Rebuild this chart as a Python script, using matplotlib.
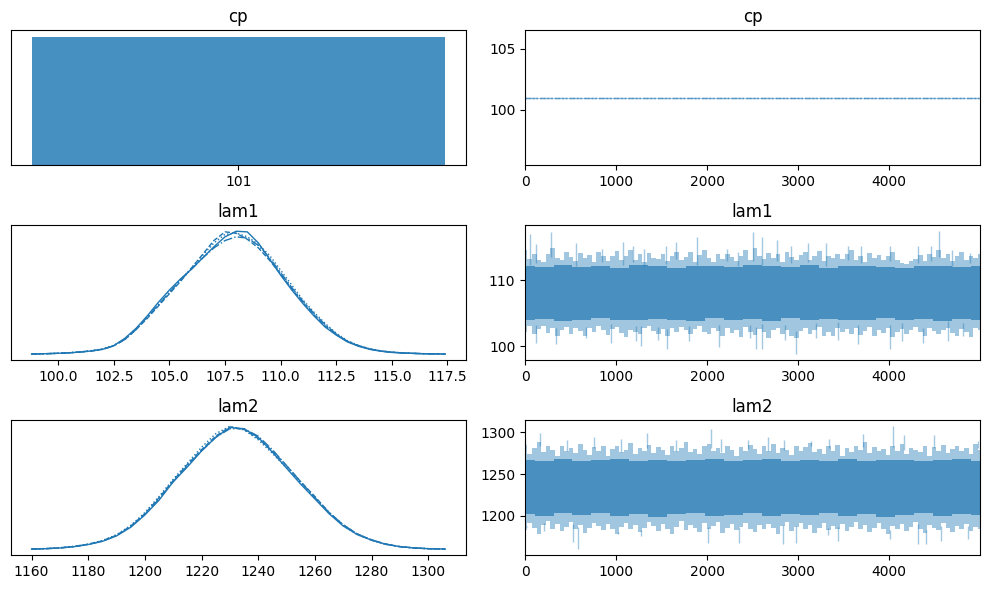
import numpy as np
import matplotlib
matplotlib.use("Agg")
import matplotlib.pyplot as plt

# trace plot of a change point model, 4 chains of 5000 draws

n_draws = 5000
chain_styles = ["-", "--", ":", "-."]
blue = "C0"

# cp is a constant 101 in every chain
cp_value = 101

# kde of lam1, one curve per chain (height relative to the peak)
lam1_grid = [98.8, 99.5, 100, 100.5, 101, 101.5, 102, 102.5, 103, 103.5, 104, 104.5, 105, 105.5,
             106, 106.5, 107, 107.5, 108, 108.5, 109, 109.5, 110, 110.5, 111, 111.5, 112, 112.5,
             113, 113.5, 114, 114.5, 115, 115.5, 116, 116.5, 117, 117.4]
lam1_kde = [
    [0.002, 0.005, 0.008, 0.012, 0.018, 0.027, 0.04, 0.07, 0.13, 0.21, 0.31, 0.42, 0.52, 0.61,
     0.69, 0.78, 0.87, 0.95, 0.995, 0.99, 0.90, 0.77, 0.64, 0.52, 0.41, 0.31, 0.22, 0.155,
     0.10, 0.065, 0.04, 0.025, 0.015, 0.01, 0.007, 0.004, 0.003, 0.002],
    [0.002, 0.005, 0.008, 0.012, 0.019, 0.028, 0.042, 0.07, 0.12, 0.20, 0.29, 0.39, 0.49, 0.59,
     0.70, 0.81, 0.92, 0.99, 0.98, 0.93, 0.86, 0.76, 0.65, 0.53, 0.42, 0.32, 0.23, 0.16,
     0.105, 0.07, 0.043, 0.027, 0.017, 0.011, 0.007, 0.004, 0.003, 0.002],
    [0.002, 0.005, 0.008, 0.013, 0.02, 0.03, 0.043, 0.072, 0.125, 0.205, 0.30, 0.40, 0.50, 0.60,
     0.70, 0.80, 0.90, 0.97, 0.98, 0.95, 0.89, 0.80, 0.68, 0.56, 0.44, 0.34, 0.25, 0.17,
     0.11, 0.072, 0.045, 0.028, 0.018, 0.012, 0.008, 0.005, 0.003, 0.002],
    [0.002, 0.005, 0.008, 0.012, 0.018, 0.027, 0.04, 0.068, 0.12, 0.20, 0.30, 0.40, 0.50, 0.60,
     0.69, 0.78, 0.86, 0.92, 0.95, 0.94, 0.88, 0.78, 0.66, 0.54, 0.43, 0.33, 0.24, 0.165,
     0.105, 0.068, 0.042, 0.026, 0.016, 0.011, 0.007, 0.004, 0.003, 0.002],
]

# kde of lam2
lam2_grid = [1160, 1165, 1170, 1175, 1180, 1185, 1190, 1195, 1200, 1205, 1210, 1215, 1220, 1225,
             1230, 1235, 1240, 1245, 1250, 1255, 1260, 1265, 1270, 1275, 1280, 1285, 1290, 1295,
             1300, 1306]
lam2_kde = [
    [0.003, 0.006, 0.012, 0.022, 0.04, 0.065, 0.11, 0.18, 0.28, 0.40, 0.55, 0.67, 0.80, 0.91,
     0.99, 0.98, 0.91, 0.79, 0.66, 0.53, 0.41, 0.29, 0.19, 0.12, 0.075, 0.042, 0.022, 0.012,
     0.006, 0.003],
    [0.003, 0.006, 0.013, 0.024, 0.042, 0.07, 0.115, 0.19, 0.29, 0.42, 0.56, 0.69, 0.81, 0.92,
     0.995, 0.975, 0.90, 0.80, 0.68, 0.55, 0.43, 0.30, 0.20, 0.125, 0.078, 0.044, 0.023, 0.012,
     0.006, 0.003],
    [0.003, 0.007, 0.014, 0.025, 0.043, 0.072, 0.12, 0.195, 0.30, 0.43, 0.57, 0.70, 0.83, 0.94,
     1.0, 0.97, 0.89, 0.78, 0.66, 0.54, 0.42, 0.30, 0.195, 0.12, 0.074, 0.041, 0.022, 0.011,
     0.006, 0.003],
    [0.003, 0.006, 0.012, 0.023, 0.041, 0.068, 0.112, 0.185, 0.285, 0.41, 0.55, 0.68, 0.80, 0.91,
     0.98, 0.98, 0.92, 0.81, 0.68, 0.55, 0.42, 0.30, 0.20, 0.125, 0.077, 0.043, 0.023, 0.012,
     0.006, 0.003],
]

# trace bands: outer edge every 50 draws, dense core every 200 draws
lam1_outer_hi = [114.5, 113.2, 114.0, 113.0, 112.8, 113.9, 114.8, 113.4, 113.1, 114.2,
                 113.5, 112.9, 114.1, 113.3, 113.8, 112.7, 114.3, 113.6, 112.9, 113.7,
                 114.4, 113.1, 113.7, 114.6, 113.0, 113.9, 112.8, 114.1, 113.4, 113.2,
                 114.0, 112.9, 113.6, 114.3, 113.0, 113.5, 114.2, 112.8, 113.8, 114.5,
                 113.3, 112.7, 113.9, 113.2, 114.0, 113.5, 112.9, 113.7, 114.6, 113.1,
                 114.8, 113.6, 113.2, 114.1, 113.4, 113.9, 112.8, 114.3, 113.5, 113.0,
                 113.8, 114.2, 113.1, 113.6, 114.4, 112.9, 113.7, 113.3, 114.0, 113.2,
                 113.9, 114.5, 113.0, 113.6, 112.8, 114.1, 113.4, 113.8, 113.1, 113.6,
                 114.3, 113.0, 112.6, 112.4, 112.9, 113.2, 113.8, 112.9, 114.0, 113.5,
                 114.6, 113.3, 113.9, 112.9, 113.6, 114.2, 113.1, 113.7, 113.4, 113.9]
lam1_outer_lo = [102.2, 103.0, 101.8, 102.6, 103.1, 102.0, 102.8, 101.6, 102.5, 102.9,
                 101.9, 102.7, 102.3, 101.5, 102.8, 102.1, 103.0, 102.4, 101.7, 102.6,
                 102.9, 102.0, 101.4, 102.5, 102.2, 101.8, 102.7, 103.1, 102.3, 101.9,
                 102.6, 101.5, 102.8, 102.1, 102.9, 102.4, 101.8, 102.6, 103.0, 102.2,
                 101.9, 102.7, 102.3, 101.6, 102.8, 102.0, 102.5, 101.4, 102.9, 102.2,
                 101.7, 102.6, 102.1, 101.3, 102.4, 102.8, 101.9, 102.5, 101.6, 101.2,
                 102.3, 102.7, 101.8, 102.4, 102.9, 101.6, 102.2, 101.5, 102.7, 102.1,
                 102.6, 101.9, 102.8, 101.7, 102.3, 102.9, 101.5, 102.4, 102.0, 102.7,
                 101.4, 102.2, 102.6, 101.8, 102.4, 102.9, 102.1, 101.6, 102.7, 102.3,
                 101.9, 102.5, 102.8, 102.0, 101.5, 102.6, 102.2, 101.4, 102.8, 102.4]
lam1_core_hi = [112.2, 112.0, 112.3, 112.0, 112.2, 111.9, 112.3, 112.1, 111.9, 112.2, 112.1, 112.0,
                112.3, 112.1, 112.0, 112.3, 111.9, 112.2, 112.1, 112.0, 111.8, 112.1, 112.2, 112.0,
                112.2]
lam1_core_lo = [103.9, 104.1, 103.8, 104.0, 104.2, 104.0, 103.9, 104.1, 104.0, 103.8, 104.2, 103.9,
                104.1, 103.8, 104.2, 104.0, 104.1, 103.9, 104.0, 104.2, 103.9, 104.1, 103.8, 104.1,
                104.0]
lam1_up_draw = [59, 125, 286, 564, 850, 1077, 1187, 1304, 1543, 1656, 1894, 2213, 2341, 2499, 2608,
                2770, 2927, 3103, 3301, 3550, 3689, 4008, 4319, 4458, 4546, 4685, 4887]
lam1_up_val = [117.0, 115.5, 117.3, 115.6, 114.7, 115.7, 115.2, 114.7, 115.2, 115.8, 116.6, 114.7,
               114.3, 117.3, 116.6, 116.1, 115.1, 115.6, 115.6, 115.1, 115.1, 115.2, 115.1, 115.2,
               117.4, 114.6, 114.1]
lam1_down_draw = [125, 345, 674, 949, 1224, 1279, 1462, 1564, 1803, 2132, 2469, 2535, 2608, 2854,
                  2971, 3194, 3440, 3660, 4008, 4136, 4374, 4641, 4813]
lam1_down_val = [100.5, 100.3, 101.3, 100.5, 100.8, 100.0, 101.0, 99.6, 100.8, 99.8, 101.2, 99.5,
                 99.5, 101.0, 98.8, 101.2, 101.0, 100.3, 99.6, 100.7, 100.5, 100.7, 101.5]

lam2_outer_hi = [1285, 1274, 1281, 1288, 1276, 1283, 1279, 1272, 1284, 1278,
                 1281, 1275, 1286, 1279, 1273, 1282, 1277, 1284, 1271, 1280,
                 1283, 1276, 1279, 1287, 1274, 1281, 1278, 1285, 1275, 1282,
                 1279, 1273, 1284, 1277, 1281, 1288, 1276, 1280, 1274, 1283,
                 1286, 1278, 1281, 1275, 1284, 1279, 1272, 1282, 1277, 1285,
                 1280, 1274, 1283, 1278, 1286, 1275, 1281, 1279, 1273, 1284,
                 1277, 1282, 1287, 1276, 1280, 1274, 1283, 1278, 1285, 1272,
                 1281, 1276, 1284, 1279, 1288, 1275, 1282, 1277, 1280, 1273,
                 1283, 1278, 1286, 1274, 1281, 1279, 1276, 1284, 1271, 1282,
                 1278, 1285, 1275, 1280, 1283, 1277, 1281, 1274, 1286, 1279]
lam2_outer_lo = [1183, 1191, 1186, 1179, 1189, 1194, 1185, 1190, 1182, 1187,
                 1193, 1184, 1189, 1180, 1186, 1192, 1188, 1183, 1190, 1185,
                 1178, 1187, 1192, 1184, 1189, 1181, 1186, 1193, 1188, 1182,
                 1190, 1185, 1179, 1187, 1194, 1183, 1189, 1186, 1181, 1191,
                 1184, 1188, 1193, 1180, 1186, 1190, 1183, 1187, 1192, 1185,
                 1181, 1189, 1184, 1190, 1186, 1179, 1188, 1193, 1182, 1187,
                 1191, 1184, 1189, 1180, 1186, 1192, 1183, 1188, 1185, 1190,
                 1182, 1187, 1193, 1184, 1189, 1181, 1186, 1191, 1185, 1179,
                 1188, 1184, 1190, 1182, 1187, 1193, 1185, 1180, 1189, 1186,
                 1183, 1191, 1186, 1181, 1188, 1184, 1190, 1182, 1187, 1185]
lam2_core_hi = [1267, 1266, 1268, 1265, 1267, 1268, 1266, 1267, 1265, 1267, 1268, 1266, 1267, 1268,
                1265, 1267, 1266, 1268, 1265, 1267, 1267, 1266, 1267, 1268, 1266]
lam2_core_lo = [1202, 1200, 1203, 1201, 1203, 1200, 1202, 1199, 1202, 1203, 1200, 1201, 1203, 1200,
                1202, 1201, 1203, 1200, 1202, 1199, 1201, 1203, 1200, 1202, 1201]
lam2_up_draw = [0, 168, 462, 762, 1055, 1341, 1659, 2044, 2154, 2447, 2667, 2850, 3143, 3344, 3711,
                4040, 4168, 4498, 4974]
lam2_up_val = [1293, 1299.5, 1291, 1294, 1292, 1299.5, 1291, 1303.5, 1292, 1291, 1294, 1291, 1289,
               1292, 1297.5, 1307, 1296, 1297, 1290]
lam2_down_draw = [18, 212, 524, 579, 1018, 1275, 2007, 2355, 2832, 2978, 3326, 3436, 4004, 4315,
                  4407, 4571, 4864]
lam2_down_val = [1188, 1182, 1169, 1160.5, 1178, 1176, 1168, 1168, 1167, 1168, 1177, 1170, 1173,
                 1167, 1167, 1170, 1172]


def draw_trace(ax, outer_hi, outer_lo, core_hi, core_lo, up_x, up_y, down_x, down_y):
    outer_x = np.linspace(0, n_draws - 1, len(outer_hi))
    core_x = np.linspace(0, n_draws - 1, len(core_hi))
    ax.fill_between(outer_x, outer_lo, outer_hi, step="mid", color=blue, alpha=0.42, lw=0)
    ax.fill_between(core_x, core_lo, core_hi, step="mid", color=blue, alpha=0.68, lw=0)
    top_base = np.interp(up_x, outer_x, outer_hi) - 1
    bot_base = np.interp(down_x, outer_x, outer_lo) + 1
    ax.vlines(up_x, top_base, up_y, color=blue, alpha=0.4, lw=1)
    ax.vlines(down_x, down_y, bot_base, color=blue, alpha=0.4, lw=1)
    ax.set_xlim(0, n_draws - 1)


fig, axes = plt.subplots(3, 2, figsize=(9.89, 5.9))
fig.subplots_adjust(left=0.011, right=0.991, top=0.949, bottom=0.059, wspace=0.13, hspace=0.444)

# cp
ax = axes[0, 0]
for c in range(4):
    ax.bar(cp_value, 1, width=1, color=blue, alpha=0.35, lw=0)
ax.set_xticks([cp_value])
ax.set_yticks([])
ax.set_title("cp", fontsize=12)

ax = axes[0, 1]
for c in range(4):
    ax.plot([0, n_draws - 1], [cp_value, cp_value], color=blue, alpha=0.35,
            ls=chain_styles[c], lw=1)
ax.set_xlim(0, n_draws - 1)
ax.set_title("cp", fontsize=12)

# lam1
ax = axes[1, 0]
for c in range(4):
    ax.plot(lam1_grid, lam1_kde[c], color=blue, ls=chain_styles[c], lw=1)
ax.set_yticks([])
ax.set_title("lam1", fontsize=12)

ax = axes[1, 1]
draw_trace(ax, lam1_outer_hi, lam1_outer_lo, lam1_core_hi, lam1_core_lo,
           lam1_up_draw, lam1_up_val, lam1_down_draw, lam1_down_val)
ax.set_title("lam1", fontsize=12)

# lam2
ax = axes[2, 0]
for c in range(4):
    ax.plot(lam2_grid, lam2_kde[c], color=blue, ls=chain_styles[c], lw=1)
ax.set_yticks([])
ax.set_title("lam2", fontsize=12)

ax = axes[2, 1]
draw_trace(ax, lam2_outer_hi, lam2_outer_lo, lam2_core_hi, lam2_core_lo,
           lam2_up_draw, lam2_up_val, lam2_down_draw, lam2_down_val)
ax.set_title("lam2", fontsize=12)

fig.savefig("out.png", dpi=100)
